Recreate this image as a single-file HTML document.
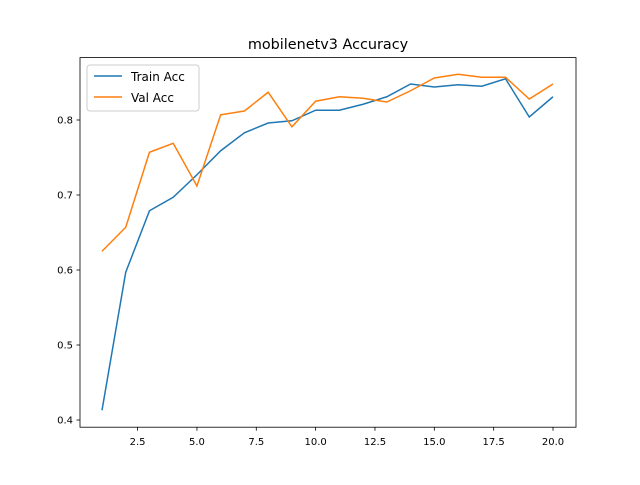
<!DOCTYPE html>
<html><head><meta charset="utf-8"><style>
body{margin:0;background:#fff;}
svg{font-family:"DejaVu Sans","Liberation Sans",sans-serif;}
</style></head><body>
<svg id="chart" width="640" height="480" viewBox="0 0 640 480">
<rect width="640" height="480" fill="#fff"/>
<text x="328" y="49" text-anchor="middle" font-size="14.4">mobilenetv3 Accuracy</text>
<g id="xt"></g><g id="yt"></g>
<g id="lines"></g>
<rect x="80" y="57.6" width="496" height="369.6" fill="none" stroke="#000" stroke-width="0.8"/>
<g>
<rect x="87" y="65" width="112" height="46" rx="3" fill="#fff" fill-opacity="0.8" stroke="#ccc"/>
<line x1="94" y1="76" x2="122" y2="76" stroke="#1f77b4" stroke-width="1.5"/>
<text x="131" y="81" font-size="12">Train Acc</text>
<line x1="94" y1="97" x2="122" y2="97" stroke="#ff7f0e" stroke-width="1.5"/>
<text x="131" y="102" font-size="12">Val Acc</text>
</g>
</svg>
<script>
const epochs=[1,2,3,4,5,6,7,8,9,10,11,12,13,14,15,16,17,18,19,20];
const trainAcc=[0.413,0.597,0.679,0.697,0.727,0.759,0.783,0.796,0.799,0.813,0.813,0.821,0.831,0.848,0.844,0.847,0.845,0.855,0.804,0.831];
const valAcc=[0.625,0.657,0.757,0.769,0.712,0.807,0.812,0.837,0.791,0.825,0.831,0.829,0.824,0.839,0.856,0.861,0.857,0.857,0.828,0.848];
const xTicks=[2.5,5.0,7.5,10.0,12.5,15.0,17.5,20.0];
const yTicks=[0.4,0.5,0.6,0.7,0.8];
const NS="http://www.w3.org/2000/svg";
const xs=v=>102+(v-1)*(451/19);
const ys=v=>420-(v-0.4)*750;
const xt=document.getElementById('xt'),yt=document.getElementById('yt'),lg=document.getElementById('lines');
xTicks.forEach(t=>{
 const l=document.createElementNS(NS,'line');
 l.setAttribute('x1',xs(t));l.setAttribute('x2',xs(t));l.setAttribute('y1',427.2);l.setAttribute('y2',430.7);l.setAttribute('stroke','#000');l.setAttribute('stroke-width','0.8');
 
 
 xt.appendChild(l);
 const s=document.createElementNS(NS,'text');
 s.setAttribute('x',xs(t));s.setAttribute('y',445);s.setAttribute('text-anchor','middle');s.setAttribute('font-size','10');
 s.textContent=t.toFixed(1);
 
 
 xt.appendChild(s);
});
yTicks.forEach(t=>{
 const l=document.createElementNS(NS,'line');
 l.setAttribute('x1',76.5);l.setAttribute('x2',80);l.setAttribute('y1',ys(t));l.setAttribute('y2',ys(t));l.setAttribute('stroke','#000');l.setAttribute('stroke-width','0.8');
 
 
 yt.appendChild(l);
 const s=document.createElementNS(NS,'text');
 s.setAttribute('x',73);s.setAttribute('y',ys(t)+3.5);s.setAttribute('text-anchor','end');s.setAttribute('font-size','10');
 s.textContent=t.toFixed(1);
 
 
 yt.appendChild(s);
});
function line(data,color,name){
 const p=document.createElementNS(NS,'polyline');
 p.setAttribute('points',data.map((v,i)=>xs(epochs[i])+','+ys(v)).join(' '));
 p.setAttribute('fill','none');p.setAttribute('stroke',color);p.setAttribute('stroke-width','1.5');
 
 
 lg.appendChild(p);
}
line(trainAcc,'#1f77b4','train-acc-line');
line(valAcc,'#ff7f0e','val-acc-line');
</script>
</body></html>
